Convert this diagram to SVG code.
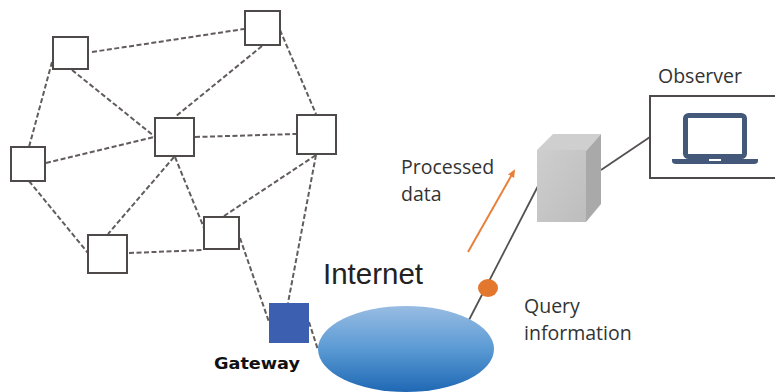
<svg xmlns="http://www.w3.org/2000/svg" width="775" height="392" viewBox="0 0 775 392">
<style>
.n{fill:#fff;stroke:#4f4a4a;stroke-width:2}
.d{fill:none;stroke:#625c5c;stroke-width:2;stroke-dasharray:5 2.5}
.s{fill:none;stroke:#565151;stroke-width:1.8}
.t{font-family:"Open Sans","Noto Sans",sans-serif;font-size:19.500px;fill:#333}
</style>
<defs>
<linearGradient id="g" x1="0" y1="0" x2="0" y2="1"><stop offset="0" stop-color="#98bce2"/><stop offset="0.5" stop-color="#5a9ad4"/><stop offset="1" stop-color="#1f68b4"/></linearGradient>
<marker id="a" markerUnits="userSpaceOnUse" markerWidth="8" markerHeight="8" refX="6" refY="4" orient="auto"><path d="M0 0.500L8 4L0 7.500Z" fill="#e8803a"/></marker>
<linearGradient id="b" x1="0" y1="0" x2="1" y2="1"><stop offset="0" stop-color="#cecece"/><stop offset="1" stop-color="#bdbdbd"/></linearGradient>
</defs>
<g id="connectors">
<path class="d" d="M92 52L244 29"/>
<path class="d" d="M262 46L175 117"/>
<path class="d" d="M280 30L316 114"/>
<path class="d" d="M72 70L154 136"/>
<path class="d" d="M52 62L29 147"/>
<path class="d" d="M46 163L154 137"/>
<path class="d" d="M195 137L296 134"/>
<path class="d" d="M29 181L88 253"/>
<path class="d" d="M174 157L108 234"/>
<path class="d" d="M175 157L204 228"/>
<path class="d" d="M129 253L204 250"/>
<path class="d" d="M224 216L316 155"/>
<path class="d" d="M316 155L288 303"/>
<path class="d" d="M240 238L269 322"/>
<path class="d" d="M309 322L318 350"/>
<path class="s" d="M469 320L538 186"/>
<path class="s" d="M601 170L650 137"/>
<path d="M468 252L514 171" fill="none" stroke="#e8803a" stroke-width="2" marker-end="url(#a)"/>
</g>
<g id="node1"><rect class="n" x="53" y="37" width="35" height="32"/></g>
<g id="node2"><rect class="n" x="245" y="11" width="35" height="34"/></g>
<g id="node3"><rect class="n" x="155" y="118" width="39" height="38"/></g>
<g id="node4"><rect class="n" x="297" y="115" width="39" height="39"/></g>
<g id="node5"><rect class="n" x="11" y="147" width="34" height="34"/></g>
<g id="node6"><rect class="n" x="88" y="235" width="39" height="38"/></g>
<g id="node7"><rect class="n" x="204" y="217" width="35" height="32"/></g>
<g id="gateway"><rect x="269" y="303" width="40" height="40" fill="#3d5fb0"/>
<text x="214" y="369" font-family="'DejaVu Sans',sans-serif" font-weight="700" font-size="16px" fill="#111" textLength="86" lengthAdjust="spacingAndGlyphs">Gateway</text></g>
<g id="internet"><ellipse cx="406" cy="349" rx="88" ry="43" fill="url(#g)"/>
<text x="323" y="284" font-family="'Liberation Sans',sans-serif" font-size="29.500px" fill="#222">Internet</text></g>
<g id="dot"><ellipse cx="488" cy="288" rx="10" ry="9" fill="#e4772e"/></g>
<g id="server">
<path d="M537 150L553 134H601L586 151Z" fill="#cfcfcf"/>
<path d="M586 151L601 134V204L586 222Z" fill="#a9a9a9"/>
<path d="M537 150H586V222H537Z" fill="url(#b)"/>
</g>
<g id="observer"><rect class="n" x="650" y="96" width="130" height="82"/>
<rect x="685.500" y="115.500" width="59" height="41" rx="3" fill="#fff" stroke="#44597a" stroke-width="5"/>
<path d="M672 159H758V161Q758 164 754 164H676Q672 164 672 161Z" fill="#44597a"/>
<rect x="709" y="159" width="12" height="2" fill="#fff"/>
<text x="658" y="83" class="t">Observer</text></g>
<g id="labels">
<text x="401" y="174" class="t">Processed</text>
<text x="401" y="201" class="t">data</text>
<text x="524" y="313" class="t">Query</text>
<text x="524" y="340" class="t">information</text>
</g>
</svg>
